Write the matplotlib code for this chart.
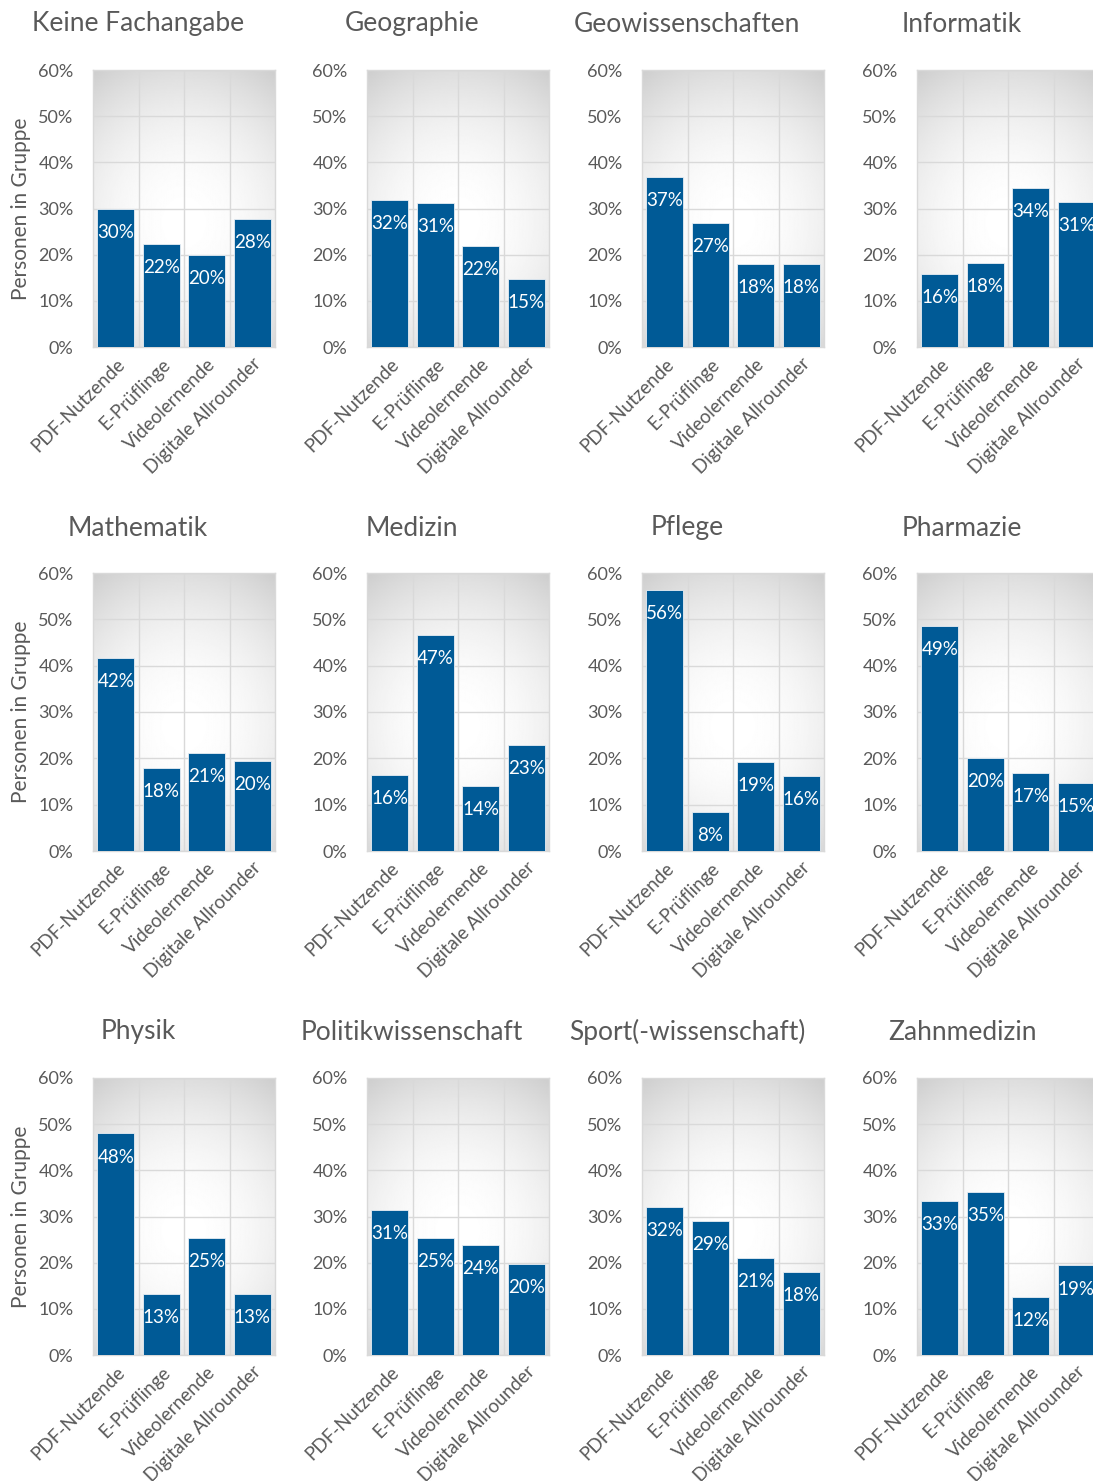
import matplotlib.pyplot as plt
import numpy as np

plt.rcParams['font.family'] = ['Lato', 'DejaVu Sans']

categories = ["PDF-Nutzende", "E-Prüflinge", "Videolernende", "Digitale Allrounder"]

subjects = [
    "Keine Fachangabe", "Geographie", "Geowissenschaften", "Informatik",
    "Mathematik", "Medizin", "Pflege", "Pharmazie",
    "Physik", "Politikwissenschaft", "Sport(-wissenschaft)", "Zahnmedizin",
]

keine = [29.9, 22.3, 19.9, 27.7]
geographie = [31.8, 31.2, 21.9, 14.7]
geowiss = [36.8, 26.8, 18.0, 18.0]
informatik = [15.8, 18.2, 34.4, 31.4]
mathematik = [41.7, 17.9, 21.2, 19.5]
medizin = [16.4, 46.7, 14.0, 22.9]
pflege = [56.4, 8.4, 19.2, 16.2]
pharmazie = [48.6, 20.1, 16.8, 14.7]
physik = [48.0, 13.3, 25.4, 13.3]
politik = [31.4, 25.4, 23.8, 19.7]
sport = [32.1, 29.1, 21.0, 18.0]
zahnmedizin = [33.3, 35.4, 12.5, 19.4]

values = [keine, geographie, geowiss, informatik,
          mathematik, medizin, pflege, pharmazie,
          physik, politik, sport, zahnmedizin]

W, H = 1093, 1481
fig = plt.figure(figsize=(W / 100, H / 100), dpi=100)

col_x = [93, 367, 642, 917]
rows = [(70, 347, 24), (573, 851, 528), (1078, 1355, 1032)]
ax_w = 182

bar_color = "#005a96"
text_color = "#595959"
grid_color = "#d9d9d9"

# radial gradient for the plot background (white centre, grey rim)
yy, xx = np.mgrid[1:-1:200j, -1:1:200j]
rr = np.sqrt((xx * 0.75) ** 2 + (yy + 0.1) ** 2)
bg = 1.0 - 0.11 * np.clip(rr, 0, 1.4) ** 2

for i, (name, vals) in enumerate(zip(subjects, values)):
    r, c = divmod(i, 4)
    top, bot, ty = rows[r]
    x0 = col_x[c]
    ax = fig.add_axes([x0 / W, 1 - bot / H, ax_w / W, (bot - top) / H])

    ax.imshow(bg, extent=[-0.5, 3.5, 0, 60], aspect="auto", cmap="gray",
              vmin=0, vmax=1, zorder=0, origin="upper")
    ax.set_xlim(-0.5, 3.5)
    ax.set_ylim(0, 60)

    x = np.arange(len(categories))
    ax.bar(x, vals, width=0.82, color=bar_color, edgecolor="#e8eef4",
           linewidth=0.6, zorder=3)
    for xi, v in zip(x, vals):
        ax.annotate(f"{round(v):d}%", (xi, v), xytext=(0, -17),
                    textcoords="offset points", ha="center", va="center",
                    color="white", fontsize=13.5, zorder=4)

    ax.set_yticks(np.arange(0, 61, 10))
    ax.set_yticklabels([f"{t}%" for t in range(0, 61, 10)])
    ax.set_xticks(x)
    ax.set_xticklabels(categories, rotation=45, ha="right",
                       rotation_mode="anchor")
    ax.set_xticks([0.5, 1.5, 2.5], minor=True)
    ax.grid(True, axis="y", color=grid_color, linewidth=1, zorder=1)
    ax.grid(True, axis="x", which="minor", color=grid_color, linewidth=1,
            zorder=1)
    ax.tick_params(which="both", length=0, colors=text_color)
    ax.tick_params(axis="y", pad=14, labelsize=13)
    ax.tick_params(axis="x", pad=6, labelsize=13.5)
    for s in ax.spines.values():
        s.set_color(grid_color)
        s.set_linewidth(1)

    if c == 0:
        ax.set_ylabel("Personen in Gruppe", color=text_color, fontsize=15,
                      labelpad=5)

    fig.text((x0 + 45) / W, 1 - ty / H, name, ha="center", va="center",
             color=text_color, fontsize=19)

fig.savefig("out.png", dpi=100)
